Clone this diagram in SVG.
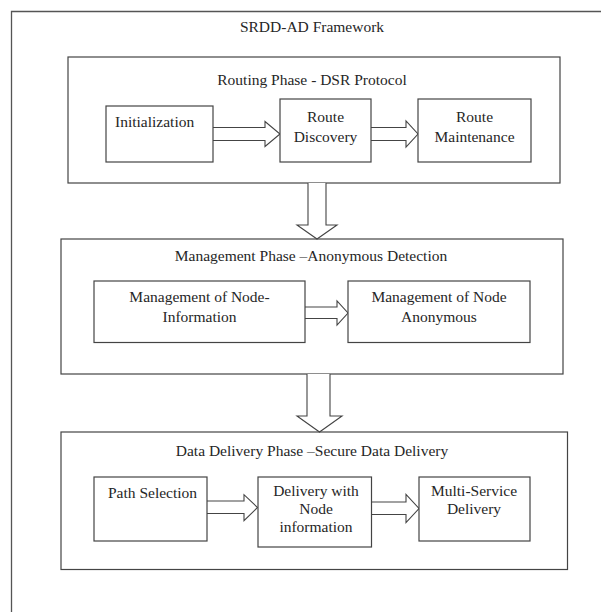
<svg xmlns="http://www.w3.org/2000/svg" width="601" height="612" viewBox="0 0 601 612">
<style>
  .box { fill: #ffffff; stroke: #444444; stroke-width: 1.2; }
  .frame { fill: none; stroke: #555555; stroke-width: 1.3; }
  .conn { fill: #ffffff; stroke: #444444; stroke-width: 1.1; stroke-linejoin: miter; }
  text { font-family: "Liberation Serif", "Times New Roman", serif; font-size: 15.5px; fill: #262626; }
  .c { text-anchor: middle; }
</style>
<rect width="601" height="612" fill="#ffffff"/>
<g id="frame">
  <path class="frame" d="M11.5,612 V11.5 H601"/>
  <text class="c" x="312" y="32">SRDD-AD Framework</text>
</g>
<g id="routing-phase">
  <rect class="box" x="68" y="57" width="492" height="126"/>
  <text class="c" x="312" y="85">Routing Phase - DSR Protocol</text>
</g>
<g id="management-phase">
  <rect class="box" x="61" y="239" width="502" height="135"/>
  <text class="c" x="311" y="261">Management Phase –Anonymous Detection</text>
</g>
<g id="data-delivery-phase">
  <rect class="box" x="61" y="432" width="506.5" height="137.5"/>
  <text class="c" x="312" y="456">Data Delivery Phase –Secure Data Delivery</text>
</g>
<g id="connectors">
  <path class="conn" d="M213,127.5 H265 V121.5 L280,134 L265,146.5 V140.5 H213"/>
  <path class="conn" d="M371,127.5 H406 V121 L418,134 L406,147 V140.5 H371"/>
  <path class="conn" d="M308,183 V225 H297 L317,239 L337,225 H326 V183"/>
  <path class="conn" d="M305,307 H337 V301 L348,313 L337,325 V318.5 H305"/>
  <path class="conn" d="M307,374 V416 H297 L319.5,432 L342,416 H330 V374"/>
  <path class="conn" d="M207,501 H244 V494.7 L257.5,507.5 L244,520.7 V513.5 H207"/>
  <path class="conn" d="M371.5,502 H406 V494.5 L419,508.5 L406,522.5 V514.5 H371.5"/>
</g>
<g id="initialization">
  <rect class="box" x="106" y="106" width="107" height="56"/>
  <text x="115" y="127">Initialization</text>
</g>
<g id="route-discovery">
  <rect class="box" x="280" y="99" width="91" height="63"/>
  <text class="c" x="325.5" y="122">Route</text>
  <text class="c" x="325.5" y="142">Discovery</text>
</g>
<g id="route-maintenance">
  <rect class="box" x="418" y="99" width="113" height="63"/>
  <text class="c" x="474.5" y="122">Route</text>
  <text class="c" x="474.5" y="142">Maintenance</text>
</g>
<g id="node-information">
  <rect class="box" x="94" y="281" width="211" height="61.5"/>
  <text class="c" x="199.5" y="302">Management of Node-</text>
  <text class="c" x="199.5" y="322">Information</text>
</g>
<g id="node-anonymous">
  <rect class="box" x="348" y="281" width="182" height="61.5"/>
  <text class="c" x="439" y="302">Management of Node</text>
  <text class="c" x="439" y="322">Anonymous</text>
</g>
<g id="path-selection">
  <rect class="box" x="94" y="477" width="113" height="64"/>
  <text x="108" y="497.5">Path Selection</text>
</g>
<g id="delivery-node-info">
  <rect class="box" x="258" y="477" width="113.5" height="70"/>
  <text class="c" x="316" y="496">Delivery with</text>
  <text class="c" x="316" y="514">Node</text>
  <text class="c" x="316" y="532">information</text>
</g>
<g id="multi-service">
  <rect class="box" x="419" y="477" width="111" height="64"/>
  <text class="c" x="474" y="496">Multi-Service</text>
  <text class="c" x="474" y="514">Delivery</text>
</g>
</svg>
